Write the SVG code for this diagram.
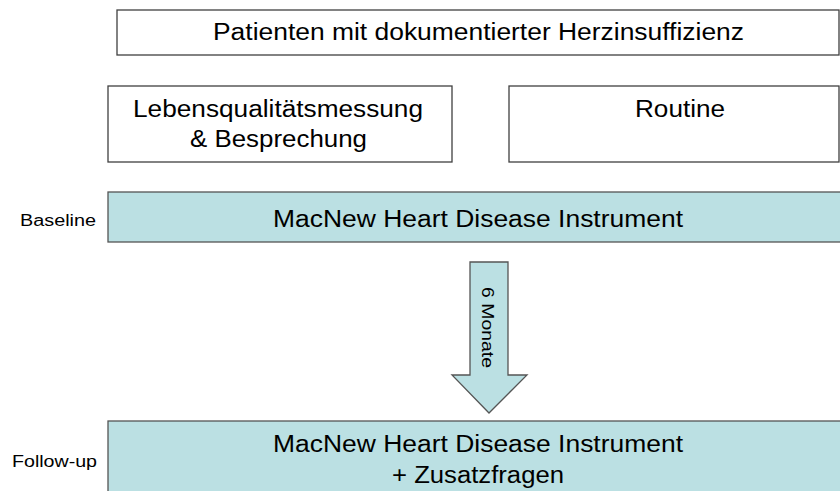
<svg xmlns="http://www.w3.org/2000/svg" width="840" height="491" viewBox="0 0 840 491">
<style>
.box{fill:#fff;stroke:#404040;stroke-width:1.3}
.bar{fill:#bbe0e3;stroke:#555;stroke-width:1.3}
text{font-family:"Liberation Sans",Arial,sans-serif;fill:#000}
.big{font-size:23px;text-anchor:middle}
.lbl{font-size:16px}
</style>
<rect width="840" height="491" fill="#fff"/>
<g id="top"><rect class="box" x="117" y="10" width="722" height="45"/><text class="big" x="478.5" y="40" textLength="531" lengthAdjust="spacingAndGlyphs">Patienten mit dokumentierter Herzinsuffizienz</text></g>
<g id="left"><rect class="box" x="108" y="86" width="344" height="76"/><text class="big" x="278" y="116.5" textLength="290" lengthAdjust="spacingAndGlyphs">Lebensqualitätsmessung</text><text class="big" x="278.5" y="146.5" textLength="177" lengthAdjust="spacingAndGlyphs">&amp; Besprechung</text></g>
<g id="right"><rect class="box" x="509" y="86" width="330" height="76"/><text class="big" x="680" y="116.5" textLength="90" lengthAdjust="spacingAndGlyphs">Routine</text></g>
<g id="baselineLabel"><text class="lbl" x="20" y="225.5" textLength="76" lengthAdjust="spacingAndGlyphs">Baseline</text></g>
<g id="baseline"><rect class="bar" x="108" y="192" width="735" height="50"/><text class="big" x="478" y="226.5" textLength="410" lengthAdjust="spacingAndGlyphs">MacNew Heart Disease Instrument</text></g>
<g id="connectors"><g id="arrow"><polygon class="bar" points="470,262 508,262 508,375 527,375 489,413 452,375 470,375"/><text font-size="16" text-anchor="middle" transform="translate(481.5,327.5) rotate(90)" textLength="81" lengthAdjust="spacingAndGlyphs">6 Monate</text></g></g>
<g id="followLabel"><text class="lbl" x="12" y="467" textLength="85" lengthAdjust="spacingAndGlyphs">Follow-up</text></g>
<g id="followup"><rect class="bar" x="108" y="421" width="735" height="75"/><text class="big" x="478" y="451.5" textLength="410" lengthAdjust="spacingAndGlyphs">MacNew Heart Disease Instrument</text><text class="big" x="478" y="482.5" textLength="172" lengthAdjust="spacingAndGlyphs">+ Zusatzfragen</text></g>
</svg>
